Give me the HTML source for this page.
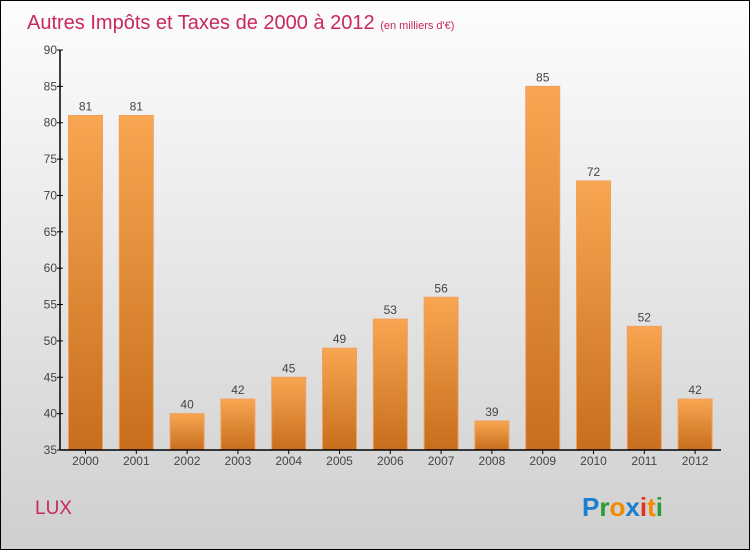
<!DOCTYPE html>
<html><head><meta charset="utf-8"><style>
body{margin:0}
#c{width:750px;height:550px;position:relative;box-sizing:border-box;border:1px solid #000;background:linear-gradient(#fdfdfd,#cfcfcf);font-family:"Liberation Sans",sans-serif;overflow:hidden}
</style></head><body>
<div id="c">
<svg width="750" height="550" style="position:absolute;left:-1px;top:-1px" id="s">
<defs><linearGradient id="g" x1="0" y1="0" x2="0" y2="1"><stop offset="0" stop-color="#f8a651"/><stop offset="1" stop-color="#c76e1c"/></linearGradient></defs>
<text x="27" y="29" font-size="20" fill="#c8285a">Autres Impôts et Taxes de 2000 à 2012 <tspan font-size="11">(en milliers d'€)</tspan></text>
<text x="35" y="514" font-size="19" fill="#c8285a">LUX</text>
<text x="582" y="516" font-size="26" font-weight="bold"><tspan fill="#1a7fd0">P</tspan><tspan fill="#2a9a3a">r</tspan><tspan fill="#f28a00">o</tspan><tspan fill="#1a7fd0">x</tspan><tspan fill="#e03020">i</tspan><tspan fill="#f28a00">t</tspan><tspan fill="#2a9a3a">i</tspan></text>
<g id="plot"></g>
</svg>
</div>
<script>
const years=["2000","2001","2002","2003","2004","2005","2006","2007","2008","2009","2010","2011","2012"];
const values=[81,81,40,42,45,49,53,56,39,85,72,52,42];
const yTicks=[35,40,45,50,55,60,65,70,75,80,85,90];
const ns="http://www.w3.org/2000/svg";
const plotG=document.getElementById('plot');
const yMin=35,yMax=90,plotTop=50,plotBot=450,plotLeft=60,plotRight=721;
const yScale=v=>plotBot-(v-yMin)/(yMax-yMin)*(plotBot-plotTop);
const step=50.8,x0=85.5;
const xScale=i=>x0+i*step;
function mk(t,a){const e=document.createElementNS(ns,t);for(const k in a)e.setAttribute(k,a[k]);plotG.appendChild(e);return e;}
values.forEach((v,i)=>{
 const r=mk('rect',{x:xScale(i)-17,y:yScale(v),width:34,height:plotBot-yScale(v),fill:'url(#g)',stroke:'#f0a060','stroke-width':1});
 
 
 const t=mk('text',{x:xScale(i),y:yScale(v)-5,'text-anchor':'middle','font-size':12,fill:'#444'});
 t.textContent=v;
 
 
 const xl=mk('text',{x:xScale(i),y:465,'text-anchor':'middle','font-size':12,fill:'#444'});
 xl.textContent=years[i];
 
 
 mk('line',{x1:xScale(i),x2:xScale(i),y1:plotBot,y2:plotBot+4,stroke:'#000'});
});
yTicks.forEach(v=>{
 mk('line',{x1:plotLeft-3,x2:plotLeft+3,y1:yScale(v),y2:yScale(v),stroke:'#000'});
 const t=mk('text',{x:plotLeft-3,y:yScale(v)+4,'text-anchor':'end','font-size':12,fill:'#444'});
 t.textContent=v;
 
 
});
const ya=mk('line',{x1:plotLeft,x2:plotLeft,y1:plotTop,y2:plotBot,stroke:'#000','stroke-width':1.5});


const xa=mk('line',{x1:plotLeft,x2:plotRight,y1:plotBot,y2:plotBot,stroke:'#000','stroke-width':1.5});


</script>
</body></html>
